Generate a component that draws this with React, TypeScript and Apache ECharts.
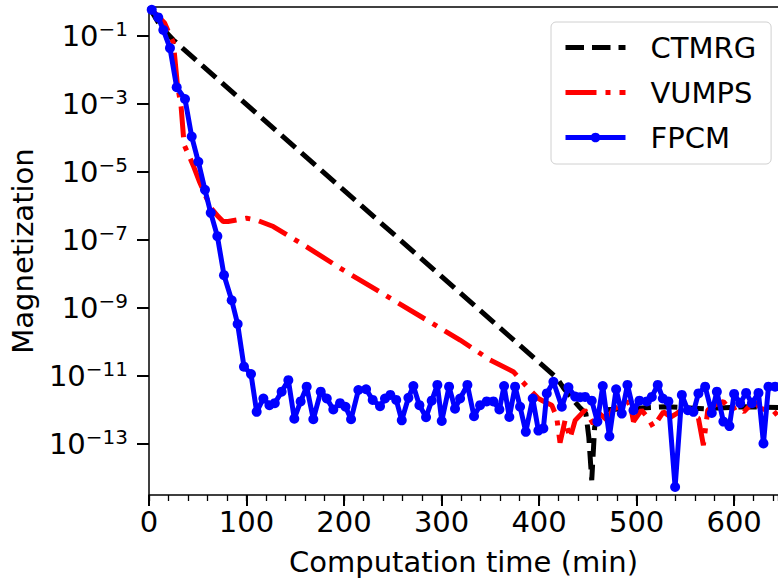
import React, { useEffect, useRef } from "react";
import * as echarts from "echarts";

// CTMRG (black dashed)
const ctmrgTime = [0, 12, 25, 418, 425, 432, 441, 448, 451, 454, 457, 463, 490, 530, 570, 610, 648];
const ctmrgMag = [0.71, 0.19, 0.076, 8.9e-12, 4.5e-12, 2.5e-12, 1.26e-12, 7.9e-13, 1.6e-13, 8.7e-15, 3.2e-13, 1.0e-12, 1.1e-12, 1.26e-12, 1.1e-12, 1.26e-12, 1.2e-12];

// VUMPS (red dash-dot)
const vumpsTime = [0, 16, 25, 29, 33, 36, 40, 46, 52, 58, 64, 71, 76, 81, 90, 100, 110, 127.5, 161.7, 195.9,
  319, 349.7, 373.6, 390.8, 399.3, 405, 413, 418, 421.5, 426.7, 431.8, 437, 447, 455.4, 462, 470, 476, 483, 493, 496.8,
  505, 511, 517, 527.5, 535, 541, 551, 557, 563.4, 568.5, 573, 580, 589, 596, 602.8, 610, 620, 628, 635, 640.3, 648];
const vumpsMag = [0.71, 0.24, 0.063, 4e-3, 7.9e-4, 6.3e-5, 3.5e-5, 1.4e-5, 5e-6, 2e-6,
  8.5e-7, 4.9e-7, 3.5e-7, 3.5e-7, 3.9e-7, 4.4e-7, 3.9e-7, 2.5e-7, 6.3e-8, 1.5e-8,
  1.15e-10, 3e-11, 1.35e-11, 3.9e-12, 2.2e-12, 1.8e-12, 1.4e-12, 6.3e-13, 1.1e-13, 5.1e-13,
  1.5e-13, 5e-13, 1e-12, 4e-13, 7.9e-13, 5e-13, 1.1e-12, 1.26e-12, 1.8e-12, 4.6e-13,
  1e-12, 6.3e-13, 3.2e-13, 8.9e-13, 6.3e-13, 7.9e-13, 1.26e-12, 7.1e-13, 5.8e-13, 9.3e-14,
  1e-12, 1.4e-12, 1.8e-12, 1e-12, 1.26e-12, 8.9e-13, 1.8e-12, 1.1e-12, 1e-12, 7.1e-13, 1.1e-12];

// FPCM (blue, circles)
const fpcmTime = [2.8, 9.5, 14.7, 21.5, 28.4, 36.9, 43.8, 50.6, 57.4, 63.3,
  70.1, 76.9, 84.8, 90.9, 97.4, 104.6, 110.4, 117.3, 123.5, 129,
  136, 142.9, 149, 155.5, 161.7, 168.5, 176.1, 182.3, 189, 195.9,
  201.5, 207.2, 214.7, 222.6, 229.4, 236.9, 242, 247.5, 253.5, 259.2,
  266, 271.1, 277.3, 284.1, 289.9, 295.7, 300.2, 307.7, 313.8, 319,
  326.5, 333.3, 339.5, 346.3, 353.1, 359.3, 364.1, 369.5, 375.4, 380.5,
  386.4, 393.5, 399.3, 404.4, 407.9, 414.7, 423.3, 430.1, 437, 442,
  447.2, 454, 459.8, 465.3, 472.1, 479, 484.8, 490.6, 496.8, 502.9,
  510.5, 515.6, 521.7, 526.9, 532.6, 539.5, 546.4, 552.5, 558.3, 563.4,
  570.3, 577.1, 582.3, 589, 595.2, 600, 606.2, 612.3, 618.2, 625,
  630.1, 635.2, 642, 648];
const fpcmMag = [0.59, 0.35, 0.15, 4.4e-2, 3.1e-3, 1.4e-3, 1.1e-4, 2.0e-5, 3.0e-6, 6.3e-7,
  1.3e-7, 9.3e-9, 1.7e-9, 3.4e-10, 1.9e-11, 1.15e-11, 8.9e-13, 2.2e-12, 1.4e-12, 1.6e-12,
  3.5e-12, 7.6e-12, 5.6e-13, 1.8e-12, 4.9e-12, 5.4e-13, 3.5e-12, 2.2e-12, 1.05e-12, 1.6e-12,
  1.26e-12, 5.4e-13, 3.9e-12, 4.1e-12, 2.0e-12, 1.3e-12, 2.2e-12, 2.8e-12, 2.0e-12, 5.0e-13,
  2.3e-12, 5.1e-12, 1.4e-12, 6.2e-13, 1.9e-12, 5.5e-12, 4.8e-13, 4.9e-12, 1.1e-12, 2.2e-12,
  5.5e-12, 6.6e-13, 1.4e-12, 1.8e-12, 1.8e-12, 1.05e-12, 5.1e-12, 6.3e-13, 4.9e-12, 1.26e-12,
  2.3e-13, 2.2e-12, 2.5e-13, 2.9e-13, 3.1e-12, 6.8e-12, 1.26e-12, 4.7e-12, 2.5e-12, 2.4e-12,
  2.45e-12, 1.9e-12, 4.6e-13, 5.1e-12, 1.7e-13, 4.1e-12, 7.9e-13, 5.5e-12, 1.0e-12, 1.9e-12,
  1.8e-12, 2.45e-12, 5.5e-12, 2.2e-12, 1.8e-12, 5.5e-15, 2.8e-12, 1.0e-12, 8.9e-13, 3.1e-12,
  4.9e-12, 8.3e-13, 3.5e-12, 4.6e-13, 3.4e-13, 3.0e-12, 1.6e-12, 3.2e-12, 1.6e-12, 3.2e-12,
  1.05e-13, 4.9e-12, 4.9e-12, 4.0e-12];

const seriesNames = ["CTMRG", "VUMPS", "FPCM"];
const yTickValues = [1e-13, 1e-11, 1e-9, 1e-7, 1e-5, 1e-3, 1e-1];
const xMin = 0;
const xMax = 645;
const yMin = 3.2e-15;
const yMax = 0.71;

const FONT = "DejaVu Sans";

function zip(t: number[], m: number[]) {
  return t.map((x, i) => [x, m[i]]);
}

export default function App() {
  const ref = useRef<HTMLDivElement>(null);
  useEffect(() => {
    document.body.style.margin = "0";
    const chart = echarts.init(ref.current!, null, { renderer: "svg" });
    const axisLineStyle = { color: "#000", width: 1.5 };
    chart.setOption({
      animation: false,
      textStyle: { fontFamily: FONT },
      grid: { left: 149, top: 7, right: 0, bottom: 87, containLabel: false },
      legend: {
        data: [
          { name: seriesNames[0], itemStyle: { opacity: 0 } },
          { name: seriesNames[1], itemStyle: { opacity: 0 } },
          { name: seriesNames[2] },
        ],
        orient: "vertical",
        left: 551,
        top: 22,
        padding: [11, 15, 12, 12],
        itemWidth: 60,
        itemHeight: 12,
        itemGap: 16,
        lineStyle: { width: 5 },
        backgroundColor: "#fff",
        borderColor: "#d0d0d0",
        borderWidth: 1,
        borderRadius: 5,
        textStyle: { fontSize: 29, color: "#000", fontFamily: FONT, padding: [0, 0, 0, 20] },
      },
      xAxis: [
        {
          type: "value",
          min: xMin,
          max: xMax,
          interval: 100,
          position: "bottom",
          axisLine: { show: true, lineStyle: axisLineStyle },
          axisTick: { show: true, length: 11, lineStyle: { color: "#000", width: 2 } },
          axisLabel: { fontSize: 29, color: "#000", margin: 12, showMaxLabel: false, fontFamily: FONT },
          splitLine: { show: false },
          name: "Computation time (min)",
          nameLocation: "middle",
          nameGap: 52,
          nameTextStyle: { fontSize: 29, color: "#000", fontFamily: FONT },
        },
        {
          type: "value",
          min: xMin,
          max: xMax,
          interval: 20,
          position: "bottom",
          axisLine: { show: false },
          axisTick: { show: true, length: 6, lineStyle: { color: "#000", width: 1.3 } },
          axisLabel: { show: false },
          splitLine: { show: false },
        },
        {
          type: "value",
          min: xMin,
          max: xMax,
          position: "top",
          axisLine: { show: true, lineStyle: axisLineStyle },
          axisTick: { show: false },
          axisLabel: { show: false },
          splitLine: { show: false },
        },
      ],
      yAxis: {
        type: "log",
        logBase: 10,
        min: yMin,
        max: yMax,
        axisLine: { show: true, lineStyle: axisLineStyle },
        axisTick: { show: true, length: 12, customValues: yTickValues, lineStyle: { color: "#000", width: 2 } },
        minorTick: { show: false },
        splitLine: { show: false },
        axisLabel: {
          customValues: yTickValues,
          margin: 21,
          formatter: (v: number) => {
            const e = Math.round(Math.log10(v));
            return `{b|10}{s|${e < 0 ? "\u2212" : ""}${Math.abs(e)}}`;
          },
          rich: {
            b: { fontSize: 29, color: "#000", fontFamily: FONT },
            s: { fontSize: 20, color: "#000", fontFamily: FONT, padding: [0, 0, 14, 0] },
          },
        },
        name: "Magnetization",
        nameLocation: "middle",
        nameGap: 110,
        nameTextStyle: { fontSize: 29, color: "#000", fontFamily: FONT },
      },
      series: [
        {
          name: "CTMRG",
          type: "line",
          data: zip(ctmrgTime, ctmrgMag),
          symbol: "none",
          showSymbol: false,
          lineStyle: { color: "#000", width: 5, type: [18.5, 8] },
          itemStyle: { color: "#000" },
          z: 2,
        },
        {
          name: "VUMPS",
          type: "line",
          data: zip(vumpsTime, vumpsMag),
          symbol: "none",
          showSymbol: false,
          lineStyle: { color: "#ff0000", width: 5, type: [31, 9, 5, 9] },
          itemStyle: { color: "#ff0000" },
          z: 3,
        },
        {
          name: "FPCM",
          type: "line",
          data: zip(fpcmTime, fpcmMag),
          symbol: "circle",
          symbolSize: 10,
          lineStyle: { color: "#0000ff", width: 5 },
          itemStyle: { color: "#0000ff" },
          z: 4,
        },
      ],
    });
    return () => chart.dispose();
  }, []);
  return <div ref={ref} style={{ width: 778, height: 582 }} />;
}
